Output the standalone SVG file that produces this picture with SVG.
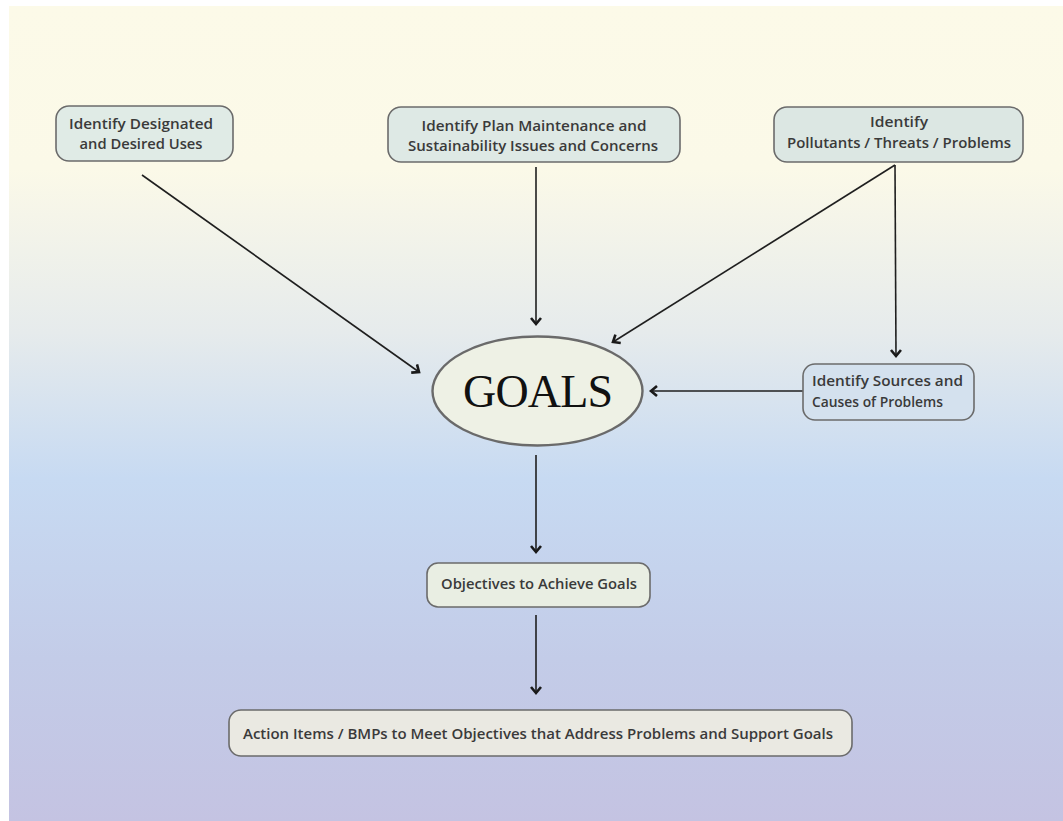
<svg xmlns="http://www.w3.org/2000/svg" width="1063" height="821" viewBox="0 0 1063 821">
<defs>
<linearGradient id="bg" x1="0" y1="0" x2="0" y2="1">
<stop offset="0" stop-color="#FCFAE8"/>
<stop offset="0.2" stop-color="#FBF9E8"/>
<stop offset="0.4" stop-color="#E6EBEC"/>
<stop offset="0.58" stop-color="#C7DAF2"/>
<stop offset="0.8" stop-color="#C3CCE8"/>
<stop offset="1" stop-color="#C4C3E2"/>
</linearGradient>
<marker id="arr" markerUnits="userSpaceOnUse" markerWidth="14" markerHeight="14" refX="7" refY="6" orient="auto" viewBox="0 0 14 12">
<path d="M1,1 L7,6 L1,11" fill="none" stroke="#1a1a1a" stroke-width="2.6" stroke-linejoin="miter"/>
</marker>
</defs>
<style>
.box{stroke:#6b6b6b;stroke-width:1.6}
.lbl{font-family:"Open Sans","Liberation Sans",sans-serif;font-size:14px;font-weight:600;fill:#3a3a3a;text-anchor:middle}
.lbll{font-family:"Open Sans","Liberation Sans",sans-serif;font-size:14px;font-weight:600;fill:#3a3a3a}
.con{stroke:#1f1f1f;stroke-width:1.6;fill:none;marker-end:url(#arr)}
</style>
<rect x="0" y="0" width="1063" height="821" fill="#ffffff"/>
<rect x="9" y="6" width="1054" height="815" fill="url(#bg)"/>

<g id="connectors">
<line class="con" x1="142" y1="175" x2="419" y2="372"/>
<line class="con" x1="536" y1="167" x2="536" y2="324"/>
<line class="con" x1="895" y1="165" x2="613" y2="342"/>
<line class="con" x1="895" y1="165" x2="896" y2="356"/>
<line class="con" x1="803" y1="391" x2="651" y2="391"/>
<line class="con" x1="536" y1="455" x2="536" y2="552"/>
<line class="con" x1="536" y1="615" x2="536" y2="693"/>
</g>

<g id="n_uses">
<rect class="box" x="56" y="106" width="177" height="55" rx="13" fill="#E0EBE6"/>
<text class="lbl" x="141" y="129" textLength="144" lengthAdjust="spacingAndGlyphs">Identify Designated</text>
<text class="lbl" x="141" y="149" textLength="123" lengthAdjust="spacingAndGlyphs">and Desired Uses</text>
</g>

<g id="n_maint">
<rect class="box" x="388" y="107" width="292" height="55" rx="13" fill="#DEE9E5"/>
<text class="lbl" x="534" y="131" textLength="225" lengthAdjust="spacingAndGlyphs">Identify Plan Maintenance and</text>
<text class="lbl" x="533" y="151" textLength="250" lengthAdjust="spacingAndGlyphs">Sustainability Issues and Concerns</text>
</g>

<g id="n_pollut">
<rect class="box" x="774" y="107" width="249" height="55" rx="13" fill="#DCE7E3"/>
<text class="lbl" x="899" y="127" textLength="58" lengthAdjust="spacingAndGlyphs">Identify</text>
<text class="lbl" x="899" y="148" textLength="224" lengthAdjust="spacingAndGlyphs">Pollutants / Threats / Problems</text>
</g>

<g id="n_goals">
<ellipse cx="537.5" cy="391" rx="105" ry="54.5" fill="#EEF1E5" stroke="#6a6a6a" stroke-width="2.4"/>
<text x="538" y="407" font-family="'Liberation Serif',serif" font-size="46" fill="#111" text-anchor="middle" textLength="150">GOALS</text>
</g>

<g id="n_sources">
<rect class="box" x="803" y="364" width="171" height="56" rx="12" fill="#D4E1EE"/>
<text class="lbll" x="812" y="386" textLength="151" lengthAdjust="spacingAndGlyphs">Identify Sources and</text>
<text class="lbll" x="812" y="407" textLength="131" lengthAdjust="spacingAndGlyphs">Causes of Problems</text>
</g>

<g id="n_obj">
<rect class="box" x="427" y="563" width="223" height="44" rx="11" fill="#E9EEE3"/>
<text class="lbl" x="539" y="589" textLength="196" lengthAdjust="spacingAndGlyphs">Objectives to Achieve Goals</text>
</g>

<g id="n_action">
<rect class="box" x="229" y="710" width="623" height="46" rx="12" fill="#EAE9E2"/>
<text class="lbl" x="538" y="739" textLength="590" lengthAdjust="spacingAndGlyphs">Action Items / BMPs to Meet Objectives that Address Problems and Support Goals</text>
</g>
</svg>
